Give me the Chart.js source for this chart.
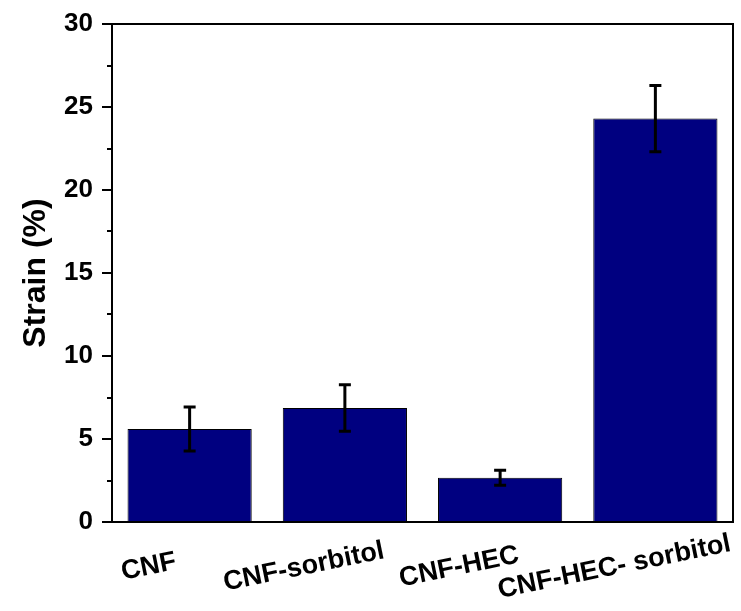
<!DOCTYPE html>
<html>
<head>
<meta charset="utf-8">
<script src="https://cdn.jsdelivr.net/npm/chart.js@4"></script>
<style>
  html, body { margin: 0; padding: 0; background: #fff; }
  #wrap { width: 741px; height: 611px; }
</style>
</head>
<body>
<div id="wrap"><canvas id="strainChart" width="741" height="611"></canvas></div>
<script>
const categories = ['CNF', 'CNF-sorbitol', 'CNF-HEC', 'CNF-HEC- sorbitol'];
const strain = [5.6, 6.87, 2.66, 24.3];
const strainErr = [1.33, 1.4, 0.45, 2.0];
const yTicks = [0, 5, 10, 15, 20, 25, 30];

const FONT = "'Liberation Sans', Arial, sans-serif";

// frame, y ticks (major + minor), error bars and rotated category labels
const extras = {
  id: 'extras',
  afterDatasetsDraw(chart) {
    const ctx = chart.ctx;
    const y = chart.scales.y;
    const meta = chart.getDatasetMeta(0);
    ctx.save();
    ctx.strokeStyle = '#000';
    ctx.lineWidth = 3;
    meta.data.forEach((bar, i) => {
      const top = y.getPixelForValue(strain[i] + strainErr[i]);
      const bot = y.getPixelForValue(strain[i] - strainErr[i]);
      ctx.beginPath();
      ctx.moveTo(bar.x, top); ctx.lineTo(bar.x, bot);
      ctx.moveTo(bar.x - 6, top); ctx.lineTo(bar.x + 6, top);
      ctx.moveTo(bar.x - 6, bot); ctx.lineTo(bar.x + 6, bot);
      ctx.stroke();
    });
    ctx.restore();
  },
  afterDraw(chart) {
    const ctx = chart.ctx;
    const a = chart.chartArea;
    const y = chart.scales.y;
    const x = chart.scales.x;
    ctx.save();
    ctx.strokeStyle = '#000';
    ctx.lineWidth = 2;
    ctx.strokeRect(a.left, a.top, a.right - a.left, a.bottom - a.top);
    ctx.beginPath();
    for (let v = 0; v <= 30; v += 2.5) {
      const py = Math.round(y.getPixelForValue(v));
      const len = v % 5 === 0 ? 10 : 5;
      ctx.moveTo(a.left - len, py);
      ctx.lineTo(a.left, py);
    }
    ctx.stroke();

    ctx.fillStyle = '#000';
    ctx.font = 'bold 27px ' + FONT;
    ctx.textAlign = 'center';
    ctx.textBaseline = 'middle';
    categories.forEach((label, i) => {
      const px = x.getPixelForValue(i) - 41;
      ctx.save();
      ctx.translate(px, 567);
      ctx.rotate(-11.5 * Math.PI / 180);
      ctx.fillText(label, 0, 0);
      ctx.restore();
    });
    ctx.restore();
  }
};

new Chart(document.getElementById('strainChart'), {
  type: 'bar',
  data: {
    labels: categories,
    datasets: [{
      data: strain,
      backgroundColor: '#000080',
      borderColor: '#000',
      borderWidth: 1,
      barPercentage: 0.8,
      categoryPercentage: 1
    }]
  },
  options: {
    responsive: false,
    animation: false,
    layout: { padding: { top: 24, right: 8, left: 0, bottom: 0 } },
    plugins: { legend: { display: false }, tooltip: { enabled: false } },
    scales: {
      x: {
        grid: { display: false },
        border: { display: false },
        ticks: { display: false },
        afterFit(scale) {
          scale.height = 89;
          scale.paddingLeft = 0;
          scale.paddingRight = 0;
        }
      },
      y: {
        min: 0,
        max: 30,
        grid: { display: false, drawTicks: false },
        border: { display: false },
        afterBuildTicks(scale) { scale.ticks = yTicks.map(v => ({ value: v })); },
        ticks: {
          padding: 19,
          color: '#000',
          font: { family: FONT, size: 26, weight: 'bold' }
        },
        title: {
          display: true,
          text: 'Strain (%)',
          color: '#000',
          padding: { top: 17, bottom: 0 },
          font: { family: FONT, size: 32, weight: 'bold' }
        },
        afterFit(scale) {
          scale.width = 112;
          scale.paddingTop = 0;
          scale.paddingBottom = 0;
        }
      }
    }
  },
  plugins: [extras]
});
</script>
</body>
</html>
